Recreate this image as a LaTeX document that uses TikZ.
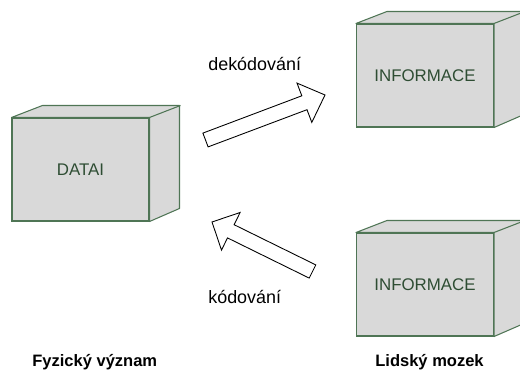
\documentclass[tikz,border=0pt]{standalone}
\usepackage{fontspec}
\setmainfont{Liberation Sans}
\usepackage{xcolor}
\usetikzlibrary{positioning}

\definecolor{boxedge}{HTML}{4F7555}
\definecolor{boxtext}{HTML}{2E4D33}
\definecolor{boxfill}{HTML}{D9D9D9}

\begin{document}
\begin{tikzpicture}[x=0.02cm,y=-0.02cm,
    kvadr/.style={draw=boxedge,fill=boxfill,line width=0.6pt,minimum width=2.74cm,
      minimum height=2.06cm,inner sep=0pt,text=boxtext,font=\fontsize{9.6}{11}\selectfont},
    stena/.style={draw=boxedge,fill=boxfill,line width=0.6pt,line join=round},
    sipka/.style={draw=black,fill=white,line width=0.5pt,line join=miter},
    popis/.style={font=\fontsize{10.2}{12}\selectfont},
    nadpis/.style={font=\bfseries\fontsize{9.4}{11}\selectfont}]

  \useasboundingbox (0,0) rectangle (520,385);

  % the three boxes
  \node[kvadr] (data) at (80.5,169.5) {DATAI};
  \node[kvadr] (horni) at (425,75.5) {INFORMACE};
  \node[kvadr,below=2.1cm of horni] (dolni) {INFORMACE};

  % top and side faces
  \foreach \n in {data,horni,dolni}
  {
    \draw[stena] (\n.north west) -- ++(31,-12) -- ++(137,0) -- ++(0,103)
      -- (\n.south east) -- (\n.north east) -- cycle;
    \draw[stena] (\n.north east) -- ++(31,-12);
  }

  % dekodovani arrow
  \draw[sipka] (202.9,133.1) -- (301.8,95.8) -- (297.0,83.1) -- (325,95)
    -- (311.8,122.4) -- (307.0,109.7) -- (208.1,146.9) -- cycle;
  % kodovani arrow
  \draw[sipka] (315.8,264.9) -- (234.1,224.7) -- (240.1,212.5) -- (212,222)
    -- (221.5,250.1) -- (227.5,237.9) -- (309.2,278.1) -- cycle;

  % labels
  \node[popis,anchor=base west,inner sep=0pt] (dek) at (208,71) {dekódování};
  \node[popis,anchor=base west,inner sep=0pt] (kod) at (208,303) {kódování};
  \node[nadpis,anchor=base west,inner sep=0pt] (fyz) at (32,366) {Fyzický význam};
  \node[nadpis,anchor=base west,inner sep=0pt] (mozek) at (375,366) {Lidský mozek};

\end{tikzpicture}
\end{document}
